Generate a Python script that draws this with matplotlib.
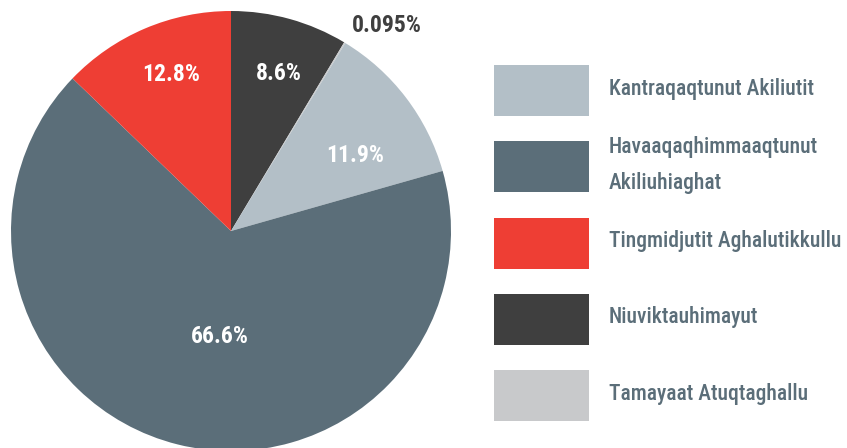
import matplotlib.pyplot as plt
from matplotlib.patches import Rectangle
import numpy as np

# Slices, in the order they are drawn clockwise from the top
labels = ["Niuviktauhimayut", "Tamayaat Atuqtaghallu", "Kantraqaqtunut Akiliutit",
          "Havaaqaqhimmaaqtunut\nAkiliuhiaghat", "Tingmidjutit Aghalutikkullu"]
shares = [8.6, 0.095, 11.9, 66.6, 12.8]
pct_text = ["8.6%", "0.095%", "11.9%", "66.6%", "12.8%"]
colors = ["#3f3f3f", "#c8c9cb", "#b3bfc7", "#5b6e79", "#ee3e34"]

# legend order (indices into the lists above)
legend_order = [2, 3, 4, 0, 1]

# label placement: (radius fraction, angle shift in degrees)
label_pos = [(0.75, -1.5), (1.17, -6.0), (0.66, -6.0), (0.48, 8.0), (0.76, -2.0)]

FONT = ["Roboto Condensed", "Roboto", "DejaVu Sans"]
TEXT_COL = "#5b6e79"

fig = plt.figure(figsize=(8.47, 4.48), dpi=100)

# Pie
ax = fig.add_axes([11 / 847, -3 / 448, 440 / 847, 440 / 448])
wedges, _ = ax.pie(shares, colors=colors, startangle=90, counterclock=False,
                   radius=1, wedgeprops=dict(linewidth=0))
ax.set_xlim(-1, 1)
ax.set_ylim(-1, 1)
ax.set_aspect("equal")
ax.axis("off")

for i, w in enumerate(wedges):
    mid = np.deg2rad((w.theta1 + w.theta2) / 2 + label_pos[i][1])
    r = label_pos[i][0]
    inside = r < 1
    ax.text(r * np.cos(mid), r * np.sin(mid), pct_text[i],
            ha="center", va="center", fontsize=17, fontweight="bold",
            color="white" if inside else "#3f3f3f", family=FONT)

# Legend drawn by hand
lax = fig.add_axes([0, 0, 1, 1])
lax.set_xlim(0, 847)
lax.set_ylim(448, 0)
lax.axis("off")
box_x, box_w, box_h = 494, 95, 51
top, step = 65, 76.3
for row, idx in enumerate(legend_order):
    y = top + row * step
    lax.add_patch(Rectangle((box_x, y), box_w, box_h, facecolor=colors[idx], edgecolor="none"))
    lax.text(609, y + box_h / 2 - 2, labels[idx], ha="left", va="center",
             fontsize=15.5, fontweight="medium", color=TEXT_COL, family=FONT, linespacing=1.8)

fig.savefig("out.png", dpi=100)
